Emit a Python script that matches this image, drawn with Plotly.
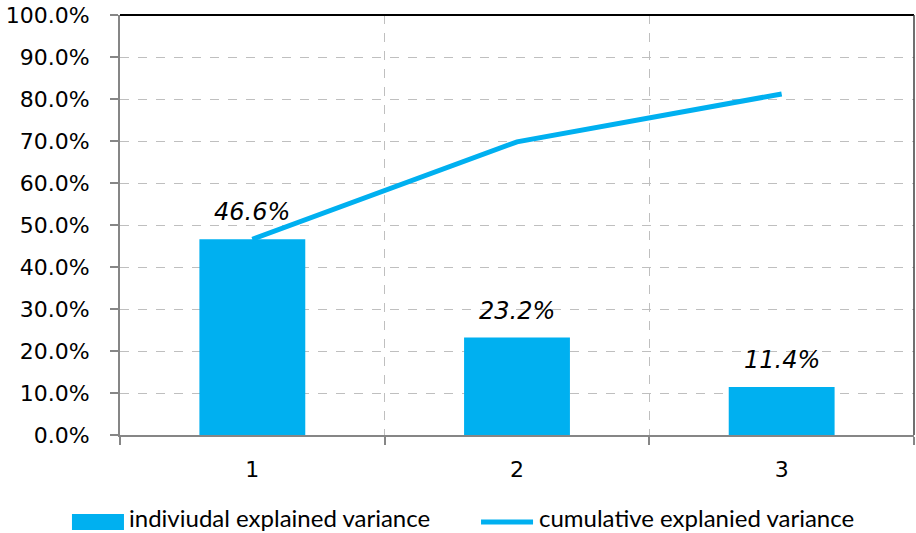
import plotly.graph_objects as go

components = ["1", "2", "3"]
individual = [46.6, 23.2, 11.4]
cumulative = [46.6, 69.8, 81.2]
bar_labels = ["46.6%", "23.2%", "11.4%"]
legend_labels = ["indiviudal explained variance", "cumulative explanied variance"]

BLUE = "#00B0F0"
AXIS_GRAY = "#868686"
GRID_GRAY = "#BFBFBF"
TICK_FONT = dict(family="DejaVu Sans", size=22, color="#000000")
LEGEND_FONT = dict(family="Lato", size=24, color="#000000")

fig = go.Figure()

fig.add_trace(go.Bar(
    x=components,
    y=individual,
    name=legend_labels[0],
    marker=dict(color=BLUE, line=dict(width=0)),
    width=0.4,
))

fig.add_trace(go.Scatter(
    x=components,
    y=cumulative,
    name=legend_labels[1],
    mode="lines",
    line=dict(color=BLUE, width=5),
))

# Value labels above each bar (category axis positions are indices)
for i, (val, lab) in enumerate(zip(individual, bar_labels)):
    fig.add_annotation(
        x=i, y=val, xref="x", yref="y", text=lab, showarrow=False,
        yanchor="bottom", yshift=11,
        font=dict(family="DejaVu Sans", size=24, color="#000000", style="italic"),
    )

# Top and right frame of the plot area
fig.add_shape(type="line", xref="paper", yref="paper", x0=0, x1=1, y0=1, y1=1,
              line=dict(color="#000000", width=2))
fig.add_shape(type="line", xref="paper", yref="paper", x0=1, x1=1, y0=0, y1=1,
              line=dict(color="#404040", width=1.5))

# Legend drawn below the plot area
LEGEND_Y = -0.2071
LEGEND_TEXT_BOTTOM = -0.2333
fig.add_shape(type="rect", xref="paper", yref="paper",
              x0=-0.0605, x1=0.005, y0=-0.2262, y1=-0.1881,
              fillcolor=BLUE, line=dict(width=0))
fig.add_annotation(xref="paper", yref="paper", x=0.0101, y=LEGEND_TEXT_BOTTOM,
                   xanchor="left", yanchor="bottom", showarrow=False, borderpad=0,
                   text=legend_labels[0], font=LEGEND_FONT)
fig.add_shape(type="line", xref="paper", yref="paper",
              x0=0.4547, x1=0.5202, y0=LEGEND_Y, y1=LEGEND_Y,
              line=dict(color=BLUE, width=5))
fig.add_annotation(xref="paper", yref="paper", x=0.5264, y=LEGEND_TEXT_BOTTOM,
                   xanchor="left", yanchor="bottom", showarrow=False, borderpad=0,
                   text=legend_labels[1], font=LEGEND_FONT)

fig.update_layout(
    width=916,
    height=533,
    margin=dict(l=120, r=2, t=15, b=98),
    paper_bgcolor="#FFFFFF",
    plot_bgcolor="#FFFFFF",
    showlegend=False,
    xaxis=dict(
        type="category",
        tickson="boundaries",
        showgrid=True,
        gridcolor=GRID_GRAY,
        griddash="dash",
        gridwidth=1,
        showline=True,
        linecolor=AXIS_GRAY,
        linewidth=2,
        ticks="outside",
        ticklen=8,
        tickcolor=AXIS_GRAY,
        tickwidth=2,
        tickfont=TICK_FONT,
        ticklabelstandoff=14,
        zeroline=False,
    ),
    yaxis=dict(
        range=[0, 100],
        dtick=10,
        tick0=0,
        tickformat=".1f",
        ticksuffix="%",
        showgrid=True,
        gridcolor=GRID_GRAY,
        griddash="dash",
        gridwidth=1,
        showline=True,
        linecolor=AXIS_GRAY,
        linewidth=2,
        ticks="outside",
        ticklen=8,
        tickcolor=AXIS_GRAY,
        tickwidth=2,
        tickfont=TICK_FONT,
        ticklabelstandoff=16,
        zeroline=False,
    ),
)

fig.write_html("out.html")
